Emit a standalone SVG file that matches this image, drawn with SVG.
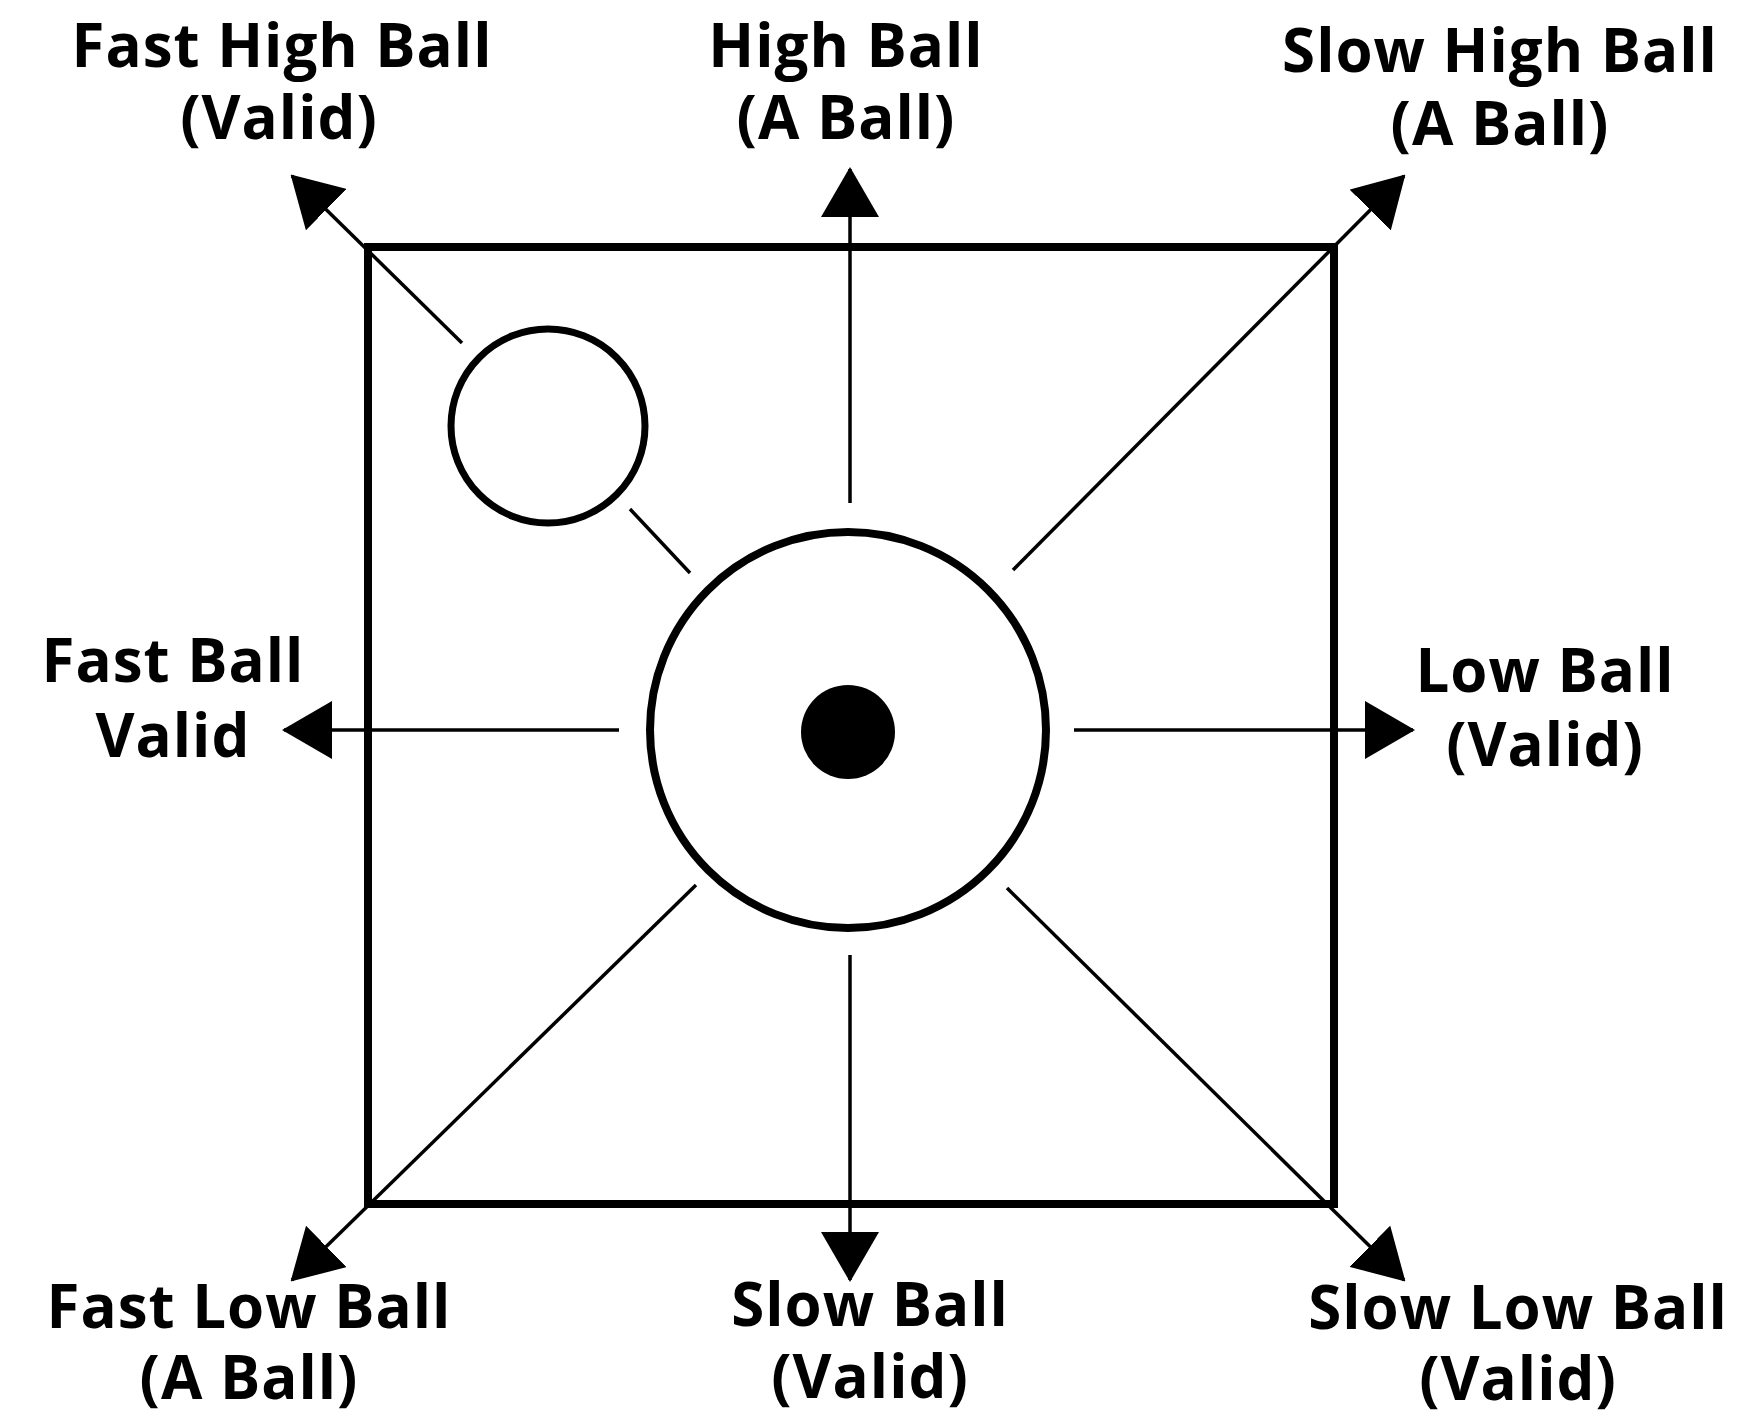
<svg xmlns="http://www.w3.org/2000/svg" width="1745" height="1418" viewBox="0 0 1745 1418">
<style>
.lbl{font-family:"Open Sans","Liberation Sans",sans-serif;font-weight:bold;font-size:60px;letter-spacing:1px;fill:#000;text-anchor:middle}
.thin{stroke:#000;stroke-width:3.5;fill:none}
.arr{stroke:#000;stroke-width:3.5;fill:none;marker-end:url(#ah)}
</style>
<defs>
<marker id="ah" viewBox="0 0 50 58" refX="48" refY="29" markerWidth="50" markerHeight="58" markerUnits="userSpaceOnUse" orient="auto">
<path d="M0,0 L50,29 L0,58 Z" fill="#000"/>
</marker>
</defs>
<rect width="1745" height="1418" fill="#fff"/>
<g id="square"><rect x="368" y="247" width="966" height="957" fill="none" stroke="#000" stroke-width="8"/></g>
<g id="connectors">
<line class="arr" x1="850" y1="503" x2="850" y2="169"/>
<line class="arr" x1="850" y1="955" x2="850" y2="1280"/>
<line class="arr" x1="619" y1="730" x2="284" y2="730"/>
<line class="arr" x1="1074" y1="730" x2="1413" y2="730"/>
<line class="thin" x1="690" y1="573" x2="630" y2="509"/>
<line class="arr" x1="462" y1="343" x2="292" y2="176"/>
<line class="arr" x1="1013" y1="570" x2="1404" y2="176"/>
<line class="arr" x1="696" y1="885" x2="292" y2="1280"/>
<line class="arr" x1="1007" y1="888" x2="1404" y2="1280"/>
</g>
<g id="small-ball"><circle cx="548" cy="426" r="97" fill="#fff" stroke="#000" stroke-width="7"/></g>
<g id="target"><circle cx="848" cy="730" r="198" fill="none" stroke="#000" stroke-width="8"/></g>
<g id="dot"><circle cx="848" cy="732" r="47" fill="#000"/></g>
<g id="label-fast-high"><text class="lbl" x="282" y="67">Fast High Ball</text><text class="lbl" x="279" y="139">(Valid)</text></g>
<g id="label-high"><text class="lbl" x="846" y="67">High Ball</text><text class="lbl" x="846" y="139">(A Ball)</text></g>
<g id="label-slow-high"><text class="lbl" x="1500" y="72">Slow High Ball</text><text class="lbl" x="1500" y="145">(A Ball)</text></g>
<g id="label-fast"><text class="lbl" x="173" y="682">Fast Ball</text><text class="lbl" x="173" y="757">Valid</text></g>
<g id="label-low"><text class="lbl" x="1545" y="692">Low Ball</text><text class="lbl" x="1545" y="766">(Valid)</text></g>
<g id="label-fast-low"><text class="lbl" x="249" y="1328">Fast Low Ball</text><text class="lbl" x="249" y="1399">(A Ball)</text></g>
<g id="label-slow"><text class="lbl" x="870" y="1326">Slow Ball</text><text class="lbl" x="870" y="1398">(Valid)</text></g>
<g id="label-slow-low"><text class="lbl" x="1518" y="1329">Slow Low Ball</text><text class="lbl" x="1518" y="1400">(Valid)</text></g>
</svg>
